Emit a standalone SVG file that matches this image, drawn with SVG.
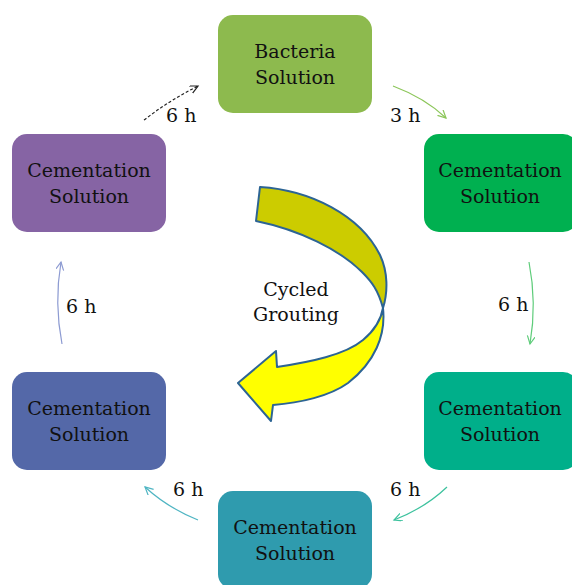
<svg xmlns="http://www.w3.org/2000/svg" width="572" height="585" viewBox="0 0 572 585">
  <style>
    .box { stroke: none; }
    .lbl { font-family: "DejaVu Serif", "Liberation Serif", serif; font-size: 19px; fill: #111; text-anchor: middle; }
    .time { font-family: "DejaVu Serif", "Liberation Serif", serif; font-size: 19px; fill: #111; }
    .link { fill: none; stroke-width: 1.2; }
  </style>
  <defs>
    <marker id="hk" markerWidth="10" markerHeight="10" refX="8" refY="4" orient="auto" markerUnits="userSpaceOnUse">
      <path d="M0,0 L8,4 L0,8" fill="none" stroke="#222" stroke-width="1.2"/>
    </marker>
    <marker id="h1" markerWidth="10" markerHeight="10" refX="8" refY="4" orient="auto" markerUnits="userSpaceOnUse">
      <path d="M0,0 L8,4 L0,8" fill="none" stroke="#8CC65A" stroke-width="1.2"/>
    </marker>
    <marker id="h2" markerWidth="10" markerHeight="10" refX="8" refY="4" orient="auto" markerUnits="userSpaceOnUse">
      <path d="M0,0 L8,4 L0,8" fill="none" stroke="#5ECC7A" stroke-width="1.2"/>
    </marker>
    <marker id="h3" markerWidth="10" markerHeight="10" refX="8" refY="4" orient="auto" markerUnits="userSpaceOnUse">
      <path d="M0,0 L8,4 L0,8" fill="none" stroke="#3DC29E" stroke-width="1.2"/>
    </marker>
    <marker id="h4" markerWidth="10" markerHeight="10" refX="8" refY="4" orient="auto" markerUnits="userSpaceOnUse">
      <path d="M0,0 L8,4 L0,8" fill="none" stroke="#4FB5C3" stroke-width="1.2"/>
    </marker>
    <marker id="h5" markerWidth="10" markerHeight="10" refX="8" refY="4" orient="auto" markerUnits="userSpaceOnUse">
      <path d="M0,0 L8,4 L0,8" fill="none" stroke="#8D9BD2" stroke-width="1.2"/>
    </marker>
  </defs>

  <rect width="572" height="585" fill="#ffffff"/>

  <!-- central twisted arrow -->
  <g id="cycle-arrow" stroke="#2C6494" stroke-width="2" stroke-linejoin="round">
    <path d="M260,187 C310,190 360,215 380,255 C388,272 388,292 383,308 C378,290 372,282 362,272 C340,250 300,230 256,221 Z" fill="#CCCC00"/>
    <path d="M383,308 C386,335 375,362 348,383 C330,396 300,403 273,405 L271,421 L238,383 L276,351 L277,367 C310,362 345,355 363,340 C375,330 381,320 383,308 Z" fill="#FFFF00"/>
  </g>
  <text class="lbl" x="296" y="296">Cycled</text>
  <text class="lbl" x="296" y="321">Grouting</text>

  <!-- connectors -->
  <g id="connectors">
    <path class="link" d="M144,120 Q170,100 198,86" stroke="#222" stroke-dasharray="3,2" marker-end="url(#hk)"/>
    <path class="link" d="M393,86 Q425,98 446,118" stroke="#8CC65A" marker-end="url(#h1)"/>
    <path class="link" d="M529,262 Q537,303 530,344" stroke="#5ECC7A" marker-end="url(#h2)"/>
    <path class="link" d="M447,487 Q425,508 394,520" stroke="#3DC29E" marker-end="url(#h3)"/>
    <path class="link" d="M198,520 Q168,508 145,487" stroke="#4FB5C3" marker-end="url(#h4)"/>
    <path class="link" d="M62,344 Q54,303 61,262" stroke="#8D9BD2" marker-end="url(#h5)"/>
    <text class="time" x="166" y="122">6 h</text>
    <text class="time" x="390" y="122">3 h</text>
    <text class="time" x="498" y="311">6 h</text>
    <text class="time" x="390" y="496">6 h</text>
    <text class="time" x="173" y="496">6 h</text>
    <text class="time" x="66" y="313">6 h</text>
  </g>

  <!-- nodes -->
  <g id="bacteria">
    <rect class="box" x="218" y="15" width="154" height="98" rx="15" fill="#8DBA4E"/>
    <text class="lbl" x="295" y="58">Bacteria</text>
    <text class="lbl" x="295" y="84">Solution</text>
  </g>
  <g id="cement-right-top">
    <rect class="box" x="424" y="134" width="154" height="98" rx="15" fill="#00B050"/>
    <text class="lbl" x="500" y="177">Cementation</text>
    <text class="lbl" x="500" y="203">Solution</text>
  </g>
  <g id="cement-right-bottom">
    <rect class="box" x="424" y="372" width="154" height="98" rx="15" fill="#00AF8A"/>
    <text class="lbl" x="500" y="415">Cementation</text>
    <text class="lbl" x="500" y="441">Solution</text>
  </g>
  <g id="cement-bottom">
    <rect class="box" x="218" y="491" width="154" height="98" rx="15" fill="#2F9BAE"/>
    <text class="lbl" x="295" y="534">Cementation</text>
    <text class="lbl" x="295" y="560">Solution</text>
  </g>
  <g id="cement-left-bottom">
    <rect class="box" x="12" y="372" width="154" height="98" rx="15" fill="#5468A8"/>
    <text class="lbl" x="89" y="415">Cementation</text>
    <text class="lbl" x="89" y="441">Solution</text>
  </g>
  <g id="cement-left-top">
    <rect class="box" x="12" y="134" width="154" height="98" rx="15" fill="#8664A4"/>
    <text class="lbl" x="89" y="177">Cementation</text>
    <text class="lbl" x="89" y="203">Solution</text>
  </g>
</svg>
